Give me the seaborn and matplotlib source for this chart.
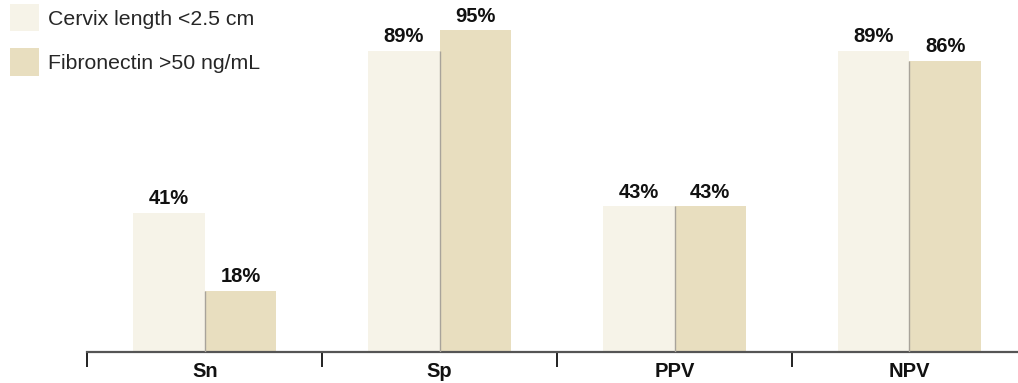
import matplotlib
matplotlib.use("Agg")
import matplotlib.pyplot as plt
from matplotlib.patches import Patch
from matplotlib.ticker import FixedLocator
import seaborn as sns
import pandas as pd

categories = ["Sn", "Sp", "PPV", "NPV"]
cervix = [41, 89, 43, 89]
fibronectin = [18, 95, 43, 86]
series_names = ["Cervix length <2.5 cm", "Fibronectin >50 ng/mL"]
colors = ["#F6F3E8", "#E8DEBF"]

sns.set_style("white")
plt.rcParams["font.family"] = ["Liberation Sans", "DejaVu Sans"]

df = pd.DataFrame({
    "metric": categories * 2,
    "series": [series_names[0]] * 4 + [series_names[1]] * 4,
    "value": cervix + fibronectin,
})

fig = plt.figure(figsize=(10.18, 3.83), dpi=100)
ax = fig.add_axes([87.3 / 1018, 31 / 383, 939.6 / 1018, 352 / 383])

sns.barplot(data=df, x="metric", y="value", hue="series", order=categories,
            hue_order=series_names, palette=colors, width=0.61, linewidth=0,
            saturation=1, errorbar=None, legend=False, ax=ax)

# thin divider between the two bars of each pair, up to the shorter bar
for i, (a, b) in enumerate(zip(cervix, fibronectin)):
    ax.vlines(i, 0, min(a, b), color="#A8A39A", linewidth=1.0, zorder=5)

# value labels above each bar
for container in ax.containers:
    for bar in container:
        h = bar.get_height()
        ax.annotate(f"{h:.0f}%", (bar.get_x() + bar.get_width() / 2, h),
                    xytext=(0, 3.5), textcoords="offset points",
                    ha="center", va="bottom", fontsize=14.5,
                    fontweight="bold", color="#111111")

ax.set_xlim(-0.5, 3.5)
ax.set_ylim(0, 104)
ax.set_xlabel("")
ax.set_ylabel("")
ax.set_yticks([])
for side in ["left", "top", "right"]:
    ax.spines[side].set_visible(False)
ax.spines["bottom"].set_color("#555555")
ax.spines["bottom"].set_linewidth(1.6)

ax.set_xticks(range(len(categories)))
ax.set_xticklabels(categories, fontsize=14.5, fontweight="bold", color="#111111")
ax.tick_params(axis="x", which="major", bottom=True, length=0, pad=7.5)
ax.xaxis.set_minor_locator(FixedLocator([-0.5, 0.5, 1.5, 2.5, 3.5]))
ax.tick_params(axis="x", which="minor", bottom=True, length=10.5, width=1.3,
               color="#111111", direction="out")

handles = [Patch(facecolor=c, edgecolor="none") for c in colors]
fig.legend(handles, series_names, loc="upper left",
           bbox_to_anchor=(10 / 1018, 1 - 4 / 383), frameon=False,
           fontsize=15.3, handlelength=1.36, handleheight=1.6,
           handletextpad=0.42, labelspacing=0.8, borderaxespad=0,
           borderpad=0)

fig.savefig("out.png", dpi=100)
